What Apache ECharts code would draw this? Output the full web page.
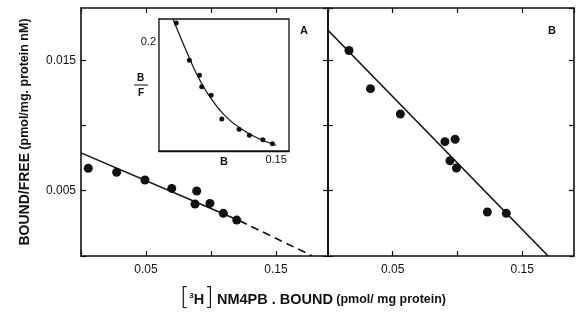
<!DOCTYPE html>
<html>
<head>
<meta charset="utf-8">
<script src="https://cdn.jsdelivr.net/npm/echarts@6/dist/echarts.min.js"></script>
<style>
  html, body { margin: 0; padding: 0; background: #fff; }
  #chart { width: 576px; height: 314px; }
</style>
</head>
<body>
<div id="chart"></div>
<script>
// panel A: scatchard points and fitted line (solid + dashed extrapolation)
var leftPoints = [[0.0056, 0.00672], [0.0274, 0.00641], [0.0492, 0.00582], [0.0698, 0.00518], [0.0890, 0.00498],
  [0.0877, 0.00398], [0.0992, 0.00403], [0.1095, 0.00327], [0.1198, 0.00275]];
var leftFitSolid = [[0, 0.0079], [0.122, 0.0027]];
var leftFitDashed = [[0.122, 0.0027], [0.178, 0]];

// panel B
var rightPoints = [[0.0162, 0.01574], [0.0328, 0.01282], [0.0559, 0.01088], [0.0903, 0.00876], [0.0982, 0.00894],
  [0.0942, 0.0073], [0.0992, 0.00674], [0.1231, 0.00337], [0.1377, 0.00327]];
var rightFit = [[0, 0.0173], [0.170, 0]];

// inset in panel A (B/F vs B)
var insetPoints = [[0.0724, 0.233], [0.0826, 0.168], [0.0904, 0.142], [0.0922, 0.122], [0.0995, 0.107],
  [0.1078, 0.0656], [0.1212, 0.0478], [0.1292, 0.0373], [0.1397, 0.0297], [0.1471, 0.0227]];
var insetCurve = [[0.0700, 0.239], [0.0830, 0.170], [0.0920, 0.128], [0.1000, 0.100], [0.1100, 0.072],
  [0.1220, 0.050], [0.1350, 0.033], [0.1500, 0.020]];

// tick labels
var xTickLabels = ['0.05', '0.15'];
var yTickLabels = ['0.005', '0.015'];
var insetXTicks = [0.10, 0.15];
var insetXLabels = [0.15];
var insetYTicks = [0.1, 0.2];
var insetYLabels = [0.2];

var fontFam = 'Liberation Sans, Arial, sans-serif';
var ink = '#111';

function pick(labels, digits) {
  return function (v) {
    var s = v.toFixed(digits);
    return labels.indexOf(s) >= 0 ? s : '';
  };
}

function xAx(grid, pos, showLabel) {
  return {
    type: 'value', gridIndex: grid, position: pos, min: 0, max: 0.19, interval: 0.05,
    splitLine: { show: false },
    axisLine: { onZero: false, lineStyle: { color: ink, width: 1.6 } },
    axisTick: { inside: true, length: 5, lineStyle: { color: ink, width: 1.2 } },
    axisLabel: { show: showLabel, formatter: pick(xTickLabels, 2), color: ink, fontSize: 12, fontFamily: fontFam, margin: 8, showMaxLabel: false }
  };
}
function yAx(grid, pos, showLabel) {
  return {
    type: 'value', gridIndex: grid, position: pos, min: 0, max: 0.019, interval: 0.005,
    splitLine: { show: false },
    axisLine: { onZero: false, lineStyle: { color: ink, width: 1.6 } },
    axisTick: { inside: true, length: 5, lineStyle: { color: ink, width: 1.2 } },
    axisLabel: { show: showLabel, formatter: pick(yTickLabels, 3), color: ink, fontSize: 12, fontFamily: fontFam, margin: 5, showMaxLabel: false }
  };
}

var yLeft = yAx(0, 'left', true);
yLeft.name = '{a|BOUND/FREE} {b|(pmol/mg. protein nM)}';
yLeft.nameLocation = 'middle';
yLeft.nameGap = 49;
yLeft.nameTextStyle = {
  color: ink, fontFamily: fontFam,
  rich: {
    a: { fontSize: 14, fontWeight: 'bold', color: ink, fontFamily: fontFam },
    b: { fontSize: 12.5, fontWeight: 'bold', color: ink, fontFamily: fontFam }
  }
};

var dot = { color: ink, opacity: 1 };

var option = {
  animation: false,
  backgroundColor: '#fff',
  grid: [
    { left: 81, top: 8, width: 247, height: 248 },
    { left: 328, top: 8, width: 246, height: 248 },
    { left: 159, top: 19, width: 130, height: 132, show: true, borderColor: ink, borderWidth: 1.3, backgroundColor: '#fff', z: 3 }
  ],
  xAxis: [
    xAx(0, 'bottom', true),
    xAx(1, 'bottom', true),
    {
      type: 'value', gridIndex: 2, min: 0.059, max: 0.16,
      splitLine: { show: false },
      axisLine: { onZero: false, lineStyle: { color: ink, width: 1.3 } },
      axisTick: { inside: true, length: 5, customValues: insetXTicks, lineStyle: { color: ink, width: 1.2 } },
      axisLabel: { customValues: insetXLabels, formatter: function (v) { return v.toFixed(2); }, color: ink, fontSize: 11, fontFamily: fontFam, margin: 3 },
      name: 'B', nameLocation: 'middle', nameGap: 5, nameMoveOverlap: false,
      nameTextStyle: { color: ink, fontSize: 11, fontWeight: 'bold', fontFamily: fontFam }
    },
    xAx(0, 'top', false),
    xAx(1, 'top', false)
  ],
  yAxis: [
    yLeft,
    yAx(1, 'left', false),
    {
      type: 'value', gridIndex: 2, min: 0.01, max: 0.24,
      splitLine: { show: false },
      axisLine: { onZero: false, lineStyle: { color: ink, width: 1.3 } },
      axisTick: { inside: true, length: 5, customValues: insetYTicks, lineStyle: { color: ink, width: 1.2 } },
      axisLabel: { customValues: insetYLabels, formatter: function (v) { return v.toFixed(1); }, color: ink, fontSize: 11, fontFamily: fontFam, margin: 3 }
    },
    yAx(0, 'right', false),
    yAx(1, 'right', false)
  ],
  graphic: [
    { type: 'text', left: 300, top: 25, style: { text: 'A', fill: ink, font: 'bold 11px ' + fontFam } },
    { type: 'text', left: 548, top: 25, style: { text: 'B', fill: ink, font: 'bold 11px ' + fontFam } },
    { type: 'text', left: 137, top: 73, z: 10, style: { text: 'B', fill: ink, font: 'bold 10px ' + fontFam } },
    { type: 'line', z: 10, shape: { x1: 134, y1: 85, x2: 148, y2: 85 }, style: { stroke: ink, lineWidth: 1 } },
    { type: 'text', left: 138, top: 88, z: 10, style: { text: 'F', fill: ink, font: 'bold 10px ' + fontFam } },
    {
      type: 'text', left: 180, top: 287,
      style: {
        text: '{br|[}{sup|3}{h|H}{br|]} {m|NM4PB . BOUND} {s|(pmol/ mg protein)}',
        rich: {
          br: { fontSize: 24, fontFamily: 'DejaVu Sans', fontWeight: 'lighter', fill: ink, padding: [0, 0, 2, 0] },
          sup: { fontSize: 8, fontWeight: 'bold', fill: ink, fontFamily: fontFam, padding: [0, 0, 9, 0] },
          h: { fontSize: 14.5, fontWeight: 'bold', fill: ink, fontFamily: fontFam },
          m: { fontSize: 14.5, fontWeight: 'bold', fill: ink, fontFamily: fontFam },
          s: { fontSize: 12.5, fontWeight: 'bold', fill: ink, fontFamily: fontFam }
        }
      }
    }
  ],
  series: [
    { type: 'line', xAxisIndex: 0, yAxisIndex: 0, data: leftFitSolid, symbol: 'none', lineStyle: { color: ink, width: 1.6 } },
    { type: 'line', xAxisIndex: 0, yAxisIndex: 0, data: leftFitDashed, symbol: 'none', lineStyle: { color: ink, width: 1.6, type: [8, 5] } },
    { type: 'scatter', xAxisIndex: 0, yAxisIndex: 0, data: leftPoints, symbolSize: 9, itemStyle: dot },
    { type: 'line', xAxisIndex: 1, yAxisIndex: 1, data: rightFit, symbol: 'none', lineStyle: { color: ink, width: 1.6 } },
    { type: 'scatter', xAxisIndex: 1, yAxisIndex: 1, data: rightPoints, symbolSize: 9, itemStyle: dot },
    { type: 'line', xAxisIndex: 2, yAxisIndex: 2, data: insetCurve, smooth: true, symbol: 'none', z: 5, lineStyle: { color: ink, width: 1.2 } },
    { type: 'scatter', xAxisIndex: 2, yAxisIndex: 2, data: insetPoints, symbolSize: 5, z: 5, itemStyle: dot }
  ]
};

var myChart = echarts.init(document.getElementById('chart'));
myChart.setOption(option);
</script>
</body>
</html>
